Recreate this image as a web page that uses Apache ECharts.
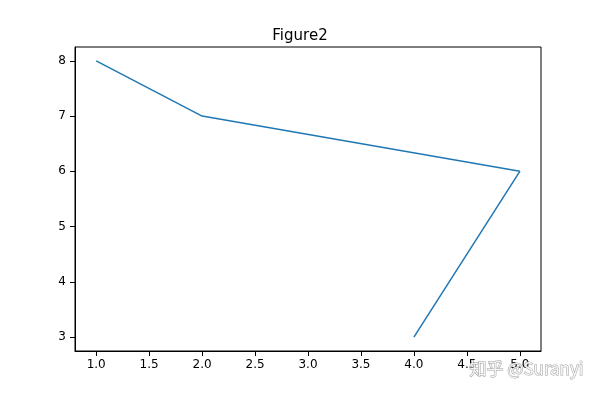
<!DOCTYPE html>
<html><head><meta charset="utf-8">
<script src="https://cdn.jsdelivr.net/npm/echarts@6/dist/echarts.min.js"></script>
<style>html,body{margin:0;padding:0;background:#fff}#c{width:600px;height:394px}</style>
</head><body><div id="c"></div>
<script>
const xValues = [1, 2, 5, 4];
const yValues = [8, 7, 6, 3];
const xTicks = [1.0, 1.5, 2.0, 2.5, 3.0, 3.5, 4.0, 4.5, 5.0];
const yTicks = [3, 4, 5, 6, 7, 8];
const titleText = 'Figure2';
const watermark = '知乎 @Suranyi';

const chart = echarts.init(document.getElementById('c'), null, {renderer: 'canvas'});
const font = 'DejaVu Sans';
chart.setOption({
  animation: false,
  title: {text: titleText, left: 'center', top: 24, textStyle: {fontFamily: font, fontSize: 15, fontWeight: 'normal', color: '#000'}},
  grid: {left: 75, right: 59, top: 47, bottom: 43, show: true, borderColor: '#000', borderWidth: 1, containLabel: false},
  xAxis: {type: 'value', min: 0.8, max: 5.2,
    axisLine: {show: true, onZero: false, lineStyle: {color: '#000', width: 1}},
    axisTick: {show: true, length: 5, customValues: xTicks, lineStyle: {color: '#000'}},
    axisLabel: {color: '#000', fontFamily: font, fontSize: 12, margin: 8, customValues: xTicks, formatter: v => v.toFixed(1)},
    splitLine: {show: false}
  },
  yAxis: {type: 'value', min: 2.75, max: 8.25,
    axisLine: {show: true, onZero: false, lineStyle: {color: '#000', width: 1}},
    axisTick: {show: true, length: 5, customValues: yTicks, lineStyle: {color: '#000'}},
    axisLabel: {color: '#000', fontFamily: font, fontSize: 12, margin: 9, customValues: yTicks, formatter: v => String(v)},
    splitLine: {show: false}
  },
  series: [{
    type: 'line',
    data: xValues.map((x, i) => [x, yValues[i]]),
    symbol: 'none',
    lineStyle: {color: '#1f77b4', width: 1.5},
    clip: false
  }],
  graphic: [{
    type: 'text', right: 16, bottom: 16,
    style: {text: watermark, fontFamily: 'Noto Sans CJK SC', fontSize: 17, fill: 'rgba(255,255,255,0.85)', stroke: 'rgba(130,130,130,0.75)', lineWidth: 1},
    z: 100
  }]
});
</script></body></html>
